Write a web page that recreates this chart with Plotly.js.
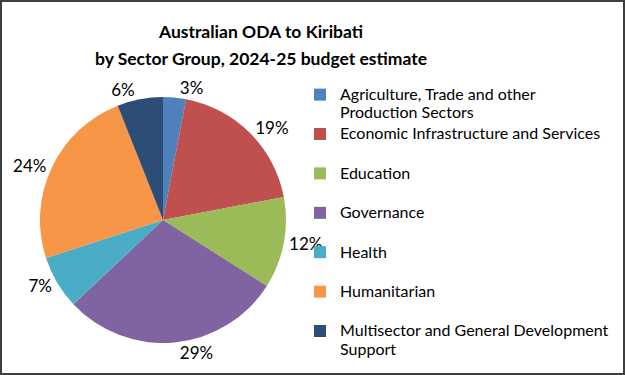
<!DOCTYPE html>
<html>
<head>
<meta charset="utf-8">
<script src="https://cdn.plot.ly/plotly-3.0.1.min.js"></script>
<style>
html,body{margin:0;padding:0;background:#fff;}
#wrap{width:625px;height:375px;box-sizing:border-box;border:2px solid #3f3f3f;overflow:hidden;}
#chart{width:621px;height:371px;}
</style>
</head>
<body>
<div id="wrap"><div id="chart"></div></div>
<script>
const sectors = [
  ["Agriculture, Trade and other", "Production Sectors"],
  ["Economic Infrastructure and Services"],
  ["Education"],
  ["Governance"],
  ["Health"],
  ["Humanitarian"],
  ["Multisector and General Development", "Support"]
];
const shares = [3, 19, 12, 29, 7, 24, 6];
const colors = ["#4F81BD", "#C0504D", "#9BBB59", "#8064A2", "#4BACC6", "#F79646", "#2C4D75"];
const titleLines = ["Australian ODA to Kiribati", "by Sector Group, 2024-25 budget estimate"];

// legend entries: two lines each, larger glyphs than the line-height font
const span = (t, px) => `<span style="font-size:${px}px">${t}</span>`;
const legendLabels = sectors.map(lines => {
  const l = lines.length > 1 ? lines : [lines[0], " "];
  return l.map(t => span(t, 16)).join("<br>");
});

const W = 621, H = 371;
const data = [{
  type: "pie",
  labels: legendLabels,
  values: shares,
  sort: false,
  direction: "clockwise",
  rotation: 0,
  marker: {colors: colors, line: {width: 0}},
  textposition: "outside",
  texttemplate: "%{value}%",
  textfont: {family: "Lato", size: 17, color: "#000"},
  hoverinfo: "none",
  domain: {x: [38 / W, 284 / W], y: [1 - 341 / H, 1 - 95 / H]}
}];
const layout = {
  width: W, height: H,
  margin: {l: 0, r: 0, t: 0, b: 0},
  paper_bgcolor: "#fff",
  font: {family: "Lato", color: "#000"},
  title: {
    text: titleLines.map(t => span(t, 17.5)).join("<br>"),
    font: {family: "Lato", size: 21, color: "#000", weight: "bold"},
    x: 259 / W, xanchor: "center", y: 1 - 36 / H, yanchor: "top"
  },
  showlegend: true,
  legend: {
    x: 298 / W, xanchor: "left", y: 1 - 77 / H, yanchor: "top",
    font: {family: "Lato", size: 14, color: "#000"},
    valign: "top",
    borderwidth: 0,
    bgcolor: "rgba(0,0,0,0)",
    itemclick: false
  }
};
Plotly.newPlot("chart", data, layout, {staticPlot: true});
</script>
</body>
</html>
